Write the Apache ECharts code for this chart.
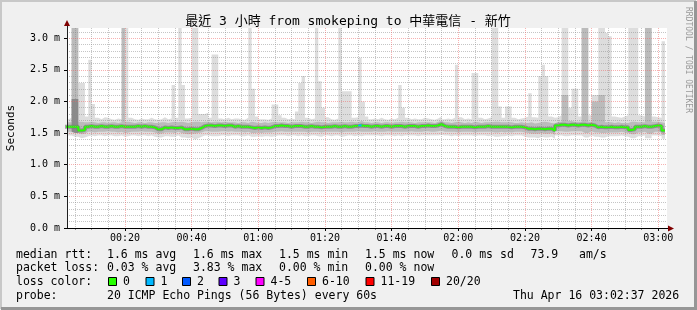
<!DOCTYPE html>
<html><head><meta charset="utf-8">
<script src="https://cdn.jsdelivr.net/npm/echarts@6/dist/echarts.min.js"></script>
<style>html,body{margin:0;padding:0;background:#F0F0F0}#c{width:697px;height:310px}</style>
</head><body><div id="c"></div>
<script>
// ---- time axis (minutes after 00:00) ----
const axisStart = 2 + 37/60;   // 00:02:37
const axisEnd = 182 + 37/60;   // 03:02:37
const firstStepEnd = 3;        // each value covers the minute ending here
const xTickValues = [20,40,60,80,100,120,140,160,180];
const xTickLabels = ['00:20','00:40','01:00','01:20','01:40','02:00','02:20','02:40','03:00'];
const xMinorValues = [5,10,15,25,30,35,45,50,55,65,70,75,85,90,95,105,110,115,125,130,135,145,150,155,165,170,175];
const yTickValues = [0,0.5,1.0,1.5,2.0,2.5,3.0];
const yTickLabels = ['0.0 m','0.5 m','1.0 m','1.5 m','2.0 m','2.5 m','3.0 m'];
const yMinorValues = [0.1,0.2,0.3,0.4,0.6,0.7,0.8,0.9,1.1,1.2,1.3,1.4,1.6,1.7,1.8,1.9,2.1,2.2,2.3,2.4,2.6,2.7,2.8,2.9,3.1];
const yMax = 3.16;

// ---- median rtt (ms) per 60 s step ----
const median = [
1.60,1.60,1.60,1.60,1.54,1.55,1.60,1.61,1.60,1.60,
1.61,1.60,1.60,1.61,1.60,1.60,1.61,1.60,1.60,1.60,
1.60,1.61,1.60,1.61,1.60,1.60,1.59,1.56,1.56,1.59,
1.58,1.59,1.58,1.58,1.59,1.56,1.56,1.57,1.56,1.56,
1.58,1.61,1.62,1.62,1.61,1.62,1.62,1.61,1.62,1.62,
1.60,1.61,1.60,1.60,1.60,1.59,1.58,1.59,1.58,1.59,
1.58,1.59,1.61,1.61,1.62,1.61,1.61,1.60,1.61,1.61,
1.61,1.60,1.60,1.61,1.60,1.60,1.59,1.60,1.60,1.60,
1.61,1.60,1.60,1.61,1.60,1.60,1.61,1.61,1.62,1.61,
1.61,1.60,1.61,1.61,1.60,1.61,1.61,1.60,1.61,1.61,
1.61,1.60,1.61,1.61,1.61,1.60,1.61,1.61,1.62,1.61,
1.61,1.62,1.64,1.61,1.60,1.60,1.60,1.59,1.60,1.60,
1.60,1.60,1.59,1.60,1.60,1.60,1.61,1.60,1.60,1.60,
1.60,1.60,1.60,1.59,1.60,1.60,1.60,1.59,1.57,1.57,
1.56,1.57,1.57,1.56,1.57,1.57,1.54,1.62,1.63,1.63,
1.62,1.63,1.63,1.62,1.63,1.63,1.62,1.63,1.62,1.59,
1.60,1.59,1.59,1.60,1.59,1.59,1.60,1.59,1.59,1.55,
1.56,1.60,1.60,1.61,1.60,1.60,1.61,1.62,1.61,1.54
];
// lost pings (of 20) per step
const lossCount = new Array(180).fill(0);
lossCount[88] = 1;

// ---- smoke (ms) per step ----
const smokeMax = [
1.72,1.74,3.20,3.20,2.29,2.29,1.76,2.66,1.96,1.74,
1.72,1.75,1.74,1.72,1.71,1.73,1.72,3.20,3.20,1.74,
1.72,1.71,1.73,1.72,1.72,1.74,1.72,1.71,1.72,1.75,
1.72,1.73,2.26,1.74,3.20,2.26,1.73,1.74,3.20,3.20,
1.80,1.80,1.82,1.74,2.74,2.74,1.73,1.72,1.74,1.72,
1.73,1.73,1.72,1.71,1.74,3.20,2.20,1.76,1.72,1.72,
1.71,1.73,1.95,1.95,1.78,1.74,1.72,1.73,1.72,1.84,
2.29,2.40,1.74,1.72,1.73,3.20,2.32,1.90,1.75,1.72,
1.71,1.73,3.20,2.16,2.16,2.16,1.74,1.75,2.69,2.00,
1.76,1.72,1.73,1.72,1.74,1.72,1.71,1.73,1.72,1.74,
2.26,1.90,1.74,1.72,1.73,1.72,1.72,1.74,1.73,1.72,
1.71,1.73,1.76,1.72,1.73,1.72,1.74,2.58,1.75,1.72,
1.73,1.72,2.45,2.45,1.74,1.72,1.73,1.75,3.20,3.20,
1.92,1.74,1.92,1.92,1.74,1.72,1.73,1.74,1.76,2.13,
1.75,1.74,2.40,2.58,2.40,1.76,1.74,1.75,1.78,3.20,
3.20,1.90,2.20,2.20,1.76,3.20,3.20,1.78,2.10,2.10,
3.20,3.20,3.08,3.03,1.76,1.75,1.74,1.76,1.78,3.20,
3.20,3.20,1.78,1.76,3.20,3.20,1.76,1.75,1.74,2.95
];
const smokeMid = [
1.67,1.67,3.20,3.20,1.68,1.67,1.67,1.68,1.67,1.66,
1.67,1.67,1.66,1.67,1.67,1.66,1.67,3.20,1.68,1.67,
1.66,1.67,1.67,1.66,1.67,1.67,1.66,1.66,1.67,1.67,
1.66,1.67,1.68,1.67,1.68,1.67,1.66,1.67,1.68,1.68,
1.67,1.68,1.68,1.67,1.68,1.68,1.67,1.68,1.67,1.67,
1.67,1.66,1.67,1.67,1.66,1.68,1.67,1.66,1.66,1.67,
1.66,1.67,1.68,1.67,1.67,1.67,1.66,1.67,1.67,1.67,
1.68,1.67,1.67,1.66,1.67,1.68,1.67,1.67,1.66,1.67,
1.67,1.67,1.68,1.67,1.67,1.68,1.67,1.67,1.69,1.67,
1.67,1.66,1.67,1.67,1.66,1.67,1.67,1.66,1.67,1.67,
1.68,1.67,1.67,1.67,1.66,1.67,1.67,1.67,1.67,1.67,
1.66,1.68,1.69,1.67,1.67,1.66,1.67,1.68,1.67,1.66,
1.67,1.66,1.68,1.67,1.66,1.67,1.67,1.67,1.68,1.68,
1.67,1.67,1.67,1.67,1.66,1.66,1.67,1.66,1.66,1.67,
1.65,1.66,1.67,1.68,1.67,1.66,1.65,1.68,1.68,2.10,
2.10,1.69,1.68,1.68,1.68,3.20,3.20,1.68,2.00,2.00,
2.10,2.10,1.67,1.67,1.66,1.67,1.66,1.66,1.66,1.68,
1.68,1.67,1.67,1.67,3.20,3.20,1.68,1.68,1.67,1.66
];
const smokeDark = new Array(180).fill(0);
smokeDark[2] = 2.04; smokeDark[3] = 2.04;
const smokeLowMid = [
1.52,1.52,1.50,1.50,1.48,1.49,1.52,1.52,1.51,1.52,
1.52,1.52,1.53,1.52,1.52,1.51,1.52,1.50,1.51,1.52,
1.52,1.52,1.53,1.52,1.52,1.52,1.51,1.49,1.49,1.51,
1.51,1.51,1.50,1.52,1.50,1.49,1.48,1.49,1.49,1.50,
1.51,1.53,1.53,1.52,1.52,1.52,1.53,1.53,1.52,1.53,
1.52,1.52,1.52,1.51,1.52,1.50,1.50,1.51,1.50,1.51,
1.51,1.51,1.52,1.52,1.53,1.52,1.52,1.52,1.52,1.52,
1.52,1.52,1.51,1.52,1.52,1.52,1.51,1.52,1.52,1.52,
1.52,1.52,1.51,1.52,1.52,1.52,1.52,1.53,1.52,1.52,
1.52,1.52,1.53,1.52,1.52,1.52,1.53,1.52,1.52,1.52,
1.52,1.52,1.52,1.53,1.52,1.52,1.52,1.53,1.53,1.52,
1.52,1.53,1.54,1.52,1.52,1.52,1.52,1.51,1.52,1.52,
1.52,1.52,1.51,1.52,1.52,1.52,1.52,1.52,1.51,1.51,
1.52,1.51,1.52,1.51,1.52,1.52,1.52,1.51,1.50,1.49,
1.49,1.49,1.50,1.49,1.49,1.50,1.47,1.53,1.53,1.52,
1.52,1.53,1.53,1.53,1.53,1.50,1.50,1.53,1.51,1.51,
1.50,1.50,1.51,1.51,1.51,1.51,1.52,1.51,1.50,1.48,
1.48,1.51,1.51,1.52,1.49,1.49,1.52,1.52,1.51,1.47
];
const smokeMin = [
1.46,1.46,1.44,1.44,1.42,1.43,1.45,1.46,1.45,1.46,
1.46,1.45,1.46,1.46,1.45,1.45,1.46,1.44,1.45,1.46,
1.46,1.45,1.46,1.46,1.45,1.46,1.44,1.43,1.43,1.45,
1.45,1.44,1.44,1.46,1.43,1.43,1.42,1.43,1.40,1.42,
1.44,1.46,1.46,1.45,1.45,1.45,1.46,1.46,1.45,1.46,
1.46,1.46,1.45,1.45,1.46,1.44,1.44,1.45,1.44,1.45,
1.45,1.44,1.45,1.46,1.46,1.46,1.45,1.46,1.46,1.45,
1.46,1.45,1.45,1.46,1.46,1.45,1.44,1.46,1.46,1.45,
1.46,1.46,1.44,1.45,1.46,1.46,1.45,1.46,1.45,1.46,
1.46,1.46,1.46,1.46,1.45,1.46,1.46,1.46,1.45,1.46,
1.45,1.46,1.46,1.46,1.46,1.45,1.46,1.46,1.46,1.46,
1.46,1.46,1.47,1.46,1.46,1.45,1.46,1.45,1.46,1.46,
1.46,1.46,1.45,1.46,1.46,1.46,1.45,1.46,1.44,1.44,
1.45,1.45,1.46,1.45,1.46,1.46,1.46,1.44,1.43,1.43,
1.43,1.42,1.44,1.43,1.43,1.44,1.41,1.46,1.46,1.45,
1.45,1.46,1.46,1.46,1.46,1.43,1.43,1.46,1.44,1.44,
1.43,1.43,1.45,1.45,1.45,1.45,1.46,1.45,1.44,1.42,
1.42,1.45,1.45,1.46,1.42,1.42,1.46,1.46,1.45,1.41
];

// ---- legend texts ----
const rttLabel = 'median rtt:';
const rttStats = ['1.6 ms avg','1.6 ms max','1.5 ms min','1.5 ms now','0.0 ms sd','73.9','am/s'];
const lossLabel = 'packet loss:';
const lossStats = ['0.03 % avg','3.83 % max','0.00 % min','0.00 % now'];
const lossColorLabel = 'loss color:';
const lossNames = ['0','1','2','3','4-5','6-10','11-19','20/20'];
const lossColors = ['#26ff00','#00b8ff','#0059ff','#5e00ff','#ff00ff','#ff5e00','#ff0000','#a10000'];
const probeLabel = 'probe:';
const probeText = '20 ICMP Echo Pings (56 Bytes) every 60s';
const dateText = 'Thu Apr 16 03:02:37 2026';
const titleText = '最近 3 小時 from smokeping to 中華電信 - 新竹';

// ---------------------------------------------------------------
const mono = "'DejaVu Sans Mono', monospace";
function stepData(arr){
  const d = [[firstStepEnd - 1, arr[0]]];
  for (let k = 0; k < arr.length; k++) d.push([firstStepEnd + k, arr[k]]);
  return d;
}
function areaSeries(arr, color){
  return {type:'line', step:'start', data: stepData(arr), symbol:'none', z:1,
    lineStyle:{width:0}, areaStyle:{color: color, opacity:1}, silent:true};
}
function lossIndex(c){
  if (c===0) return 0; if (c===1) return 1; if (c===2) return 2; if (c===3) return 3;
  if (c<=5) return 4; if (c<=10) return 5; if (c<=19) return 6; return 7;
}
const lossSeries = [];
for (let li = 1; li < 8; li++) {
  const d = [];
  for (let k = 0; k < median.length; k++) {
    if (lossIndex(lossCount[k]) === li) {
      d.push([firstStepEnd + k - 1, median[k]]);
      d.push([firstStepEnd + k, median[k]]);
      d.push([firstStepEnd + k, null]);
    }
  }
  if (d.length) lossSeries.push({type:'line', data:d, symbol:'none', z:5,
    lineStyle:{width:2, color: lossColors[li]}, silent:true});
}

const chart = echarts.init(document.getElementById('c'), null, {renderer:'canvas'});
const gridLeft = 67, gridTop = 28, gridW = 600, gridH = 200;

const graphics = [];
// frame
graphics.push({type:'polyline', shape:{points:[[1,309],[1,1],[696,1]]}, style:{stroke:'#C8C8C8', lineWidth:2, fill:null}, z:100});
graphics.push({type:'polyline', shape:{points:[[1,308.5],[695.5,308.5],[695.5,1]]}, style:{stroke:'#969696', lineWidth:3, fill:null}, z:100});
// title
graphics.push({type:'text', x:348, y:22, style:{text:titleText, font:"13px 'DejaVu Sans Mono', 'Noto Sans CJK TC', monospace", fill:'#000', align:'center', verticalAlign:'middle'}, z:100});
// vertical texts
graphics.push({type:'text', x:11, y:128, rotation:Math.PI/2, style:{text:'Seconds', font:'11px '+mono, fill:'#000', align:'center', verticalAlign:'middle'}, z:100});
graphics.push({type:'text', x:688, y:60, rotation:-Math.PI/2, style:{text:'RRDTOOL / TOBI OETIKER', font:'8px '+mono, fill:'#999', align:'center', verticalAlign:'middle'}, z:100});
// axis arrows
graphics.push({type:'polygon', shape:{points:[[67,20],[64,26],[70,26]]}, style:{fill:'#800000'}, z:100});
graphics.push({type:'line', shape:{x1:67.5,y1:26,x2:67.5,y2:28}, style:{stroke:'#202020', lineWidth:1}, z:100});
graphics.push({type:'polygon', shape:{points:[[674,228.5],[668,225.5],[668,231.5]]}, style:{fill:'#800000'}, z:100});
graphics.push({type:'line', shape:{x1:667,y1:228.5,x2:668,y2:228.5}, style:{stroke:'#000', lineWidth:1}, z:100});
// legend
const legFont = '11.5px ' + mono;
const rowY = [255, 268.5, 282, 296];
const statX = [107,193,279,365,451.5,530.5,579];
function txt(s, x, y){ graphics.push({type:'text', x:x, y:y, style:{text:s, font:legFont, fill:'#000', align:'left', verticalAlign:'middle'}, z:100}); }
txt(rttLabel, 16, rowY[0]);
rttStats.forEach((s,i)=>txt(s, statX[i], rowY[0]));
txt(lossLabel, 16, rowY[1]);
lossStats.forEach((s,i)=>txt(s, statX[i], rowY[1]));
txt(lossColorLabel, 16, rowY[2]);
const boxX = [108.5,146,182.5,219,256,307.5,366,431.5];
lossNames.forEach((s,i)=>{
  graphics.push({type:'rect', shape:{x:boxX[i], y:rowY[2]-4.5, width:8, height:8}, style:{fill:lossColors[i], stroke:'#000', lineWidth:1}, z:100});
  txt(s, boxX[i]+14.5, rowY[2]);
});
txt(probeLabel, 16, rowY[3]);
txt(probeText, 107, rowY[3]);
txt(dateText, 513, rowY[3]);

function fmtX(v){ const i = xTickValues.indexOf(v); return i>=0 ? xTickLabels[i] : ''; }
function fmtY(v){ let i = -1; yTickValues.forEach((t,j)=>{ if (Math.abs(t-v)<1e-6) i=j; }); return i>=0 ? yTickLabels[i] : ''; }

const option = {
  animation:false,
  backgroundColor:'#F0F0F0',
  grid:{left:gridLeft, top:gridTop, width:gridW, height:gridH, show:true, backgroundColor:'#FFFFFF', borderWidth:0},
  xAxis:[
    {type:'value', position:'bottom', min:axisStart, max:axisEnd, z:10,
     axisLine:{show:false}, axisLabel:{show:false},
     axisTick:{show:true, customValues:xMinorValues, length:2, lineStyle:{color:'#888'}},
     splitLine:{show:true, lineStyle:{color:'rgba(140,140,140,0.5)', width:1, type:[1,1]}}},
    {type:'value', position:'bottom', min:axisStart, max:axisEnd, z:11,
     axisLine:{show:true, onZero:false, lineStyle:{color:'#000', width:1}},
     axisTick:{show:true, customValues:xTickValues, length:3, lineStyle:{color:'#000'}},
     axisLabel:{show:true, customValues:xTickValues, formatter:fmtX, color:'#000', fontFamily:"DejaVu Sans Mono", fontSize:10, margin:5},
     splitLine:{show:true, lineStyle:{color:'rgba(240,100,100,0.5)', width:1, type:[1,1]}}}
  ],
  yAxis:[
    {type:'value', position:'left', min:0, max:yMax, z:10,
     axisLine:{show:false}, axisLabel:{show:false},
     axisTick:{show:false, customValues:yMinorValues},
     splitLine:{show:true, lineStyle:{color:'rgba(140,140,140,0.5)', width:1, type:[1,1]}}},
    {type:'value', position:'left', min:0, max:yMax, z:11,
     axisLine:{show:true, onZero:false, lineStyle:{color:'#202020', width:1}},
     axisTick:{show:true, customValues:yTickValues, length:3, lineStyle:{color:'#000'}},
     axisLabel:{show:true, customValues:yTickValues, formatter:fmtY, color:'#000', fontFamily:"DejaVu Sans Mono", fontSize:10, margin:7},
     splitLine:{show:true, lineStyle:{color:'rgba(240,100,100,0.5)', width:1, type:[1,1]}}}
  ],
  series:[
    areaSeries(smokeMax, '#DDDDDD'),
    areaSeries(smokeMid, '#BBBBBB'),
    areaSeries(smokeDark, '#8A8A8A'),
    areaSeries(smokeLowMid, '#DDDDDD'),
    areaSeries(smokeMin, '#FFFFFF'),
    {type:'line', step:'start', data:stepData(median), symbol:'none', z:3, silent:true,
     lineStyle:{width:4, color:'#7A7A7A', opacity:0.7}},
    {type:'line', step:'start', data:stepData(median), symbol:'none', z:4, silent:true,
     lineStyle:{width:2, color:lossColors[0]}}
  ].concat(lossSeries),
  graphic: graphics
};
chart.setOption(option);
</script></body></html>
